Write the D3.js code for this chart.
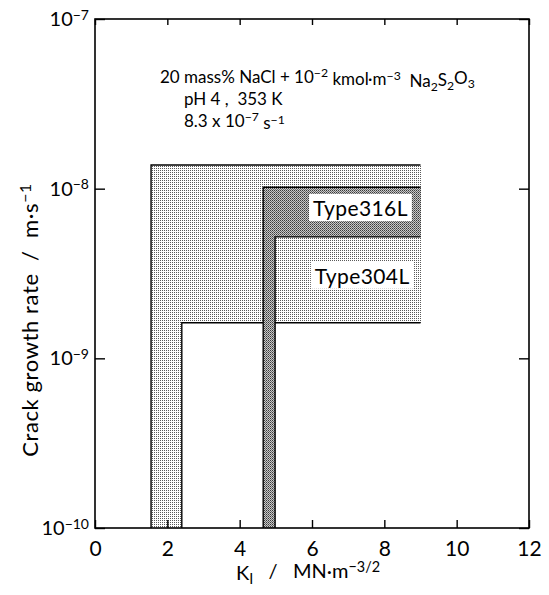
<!DOCTYPE html>
<html>
<head>
<meta charset="utf-8">
<script src="https://cdn.jsdelivr.net/npm/d3@7"></script>
<style>
  body { margin: 0; background: #fff; }
  svg { display: block; font-family: Lato, "DejaVu Sans", sans-serif; }
</style>
</head>
<body>
<svg id="chart" width="549" height="595"></svg>
<script>
// axis values
var xTicks = [0, 2, 4, 6, 8, 10, 12];
var yTicks = [1e-10, 1e-9, 1e-8, 1e-7];
var yExponents = [-10, -9, -8, -7];

// band outlines (K, rate), L-shaped regions
var band304L = [[1.55, 1e-10], [1.55, 1.38e-8], [9.0, 1.38e-8], [9.0, 1.62e-9], [2.4, 1.62e-9], [2.4, 1e-10]];
var band316L = [[4.65, 1e-10], [4.65, 1.02e-8], [9.0, 1.02e-8], [9.0, 5.2e-9], [4.98, 5.2e-9], [4.98, 1e-10]];

// labels placed at (K, rate)
var bandLabels = ["Type316L", "Type304L"];
var bandLabelPos = [[8.65, 6.9e-9], [8.7, 2.75e-9]];

var svg = d3.select("#chart");

var x = d3.scaleLinear().domain([0, 12]).range([95, 529]);
var y = d3.scaleLog().domain([1e-10, 1e-7]).range([528, 19]);

// stipple patterns
var defs = svg.append("defs");
var light = defs.append("pattern").attr("id", "light")
    .attr("patternUnits", "userSpaceOnUse").attr("width", 2).attr("height", 2);
light.append("rect").attr("width", 2).attr("height", 2).attr("fill", "#fff");
light.append("rect").attr("width", 1).attr("height", 1).attr("fill", "#5a5a5a");

var dark = defs.append("pattern").attr("id", "dark")
    .attr("patternUnits", "userSpaceOnUse").attr("width", 2).attr("height", 2);
dark.append("rect").attr("width", 2).attr("height", 2).attr("fill", "#c8c8c8");
dark.append("rect").attr("width", 1).attr("height", 1).attr("fill", "#3a3a3a");
dark.append("rect").attr("x", 1).attr("y", 1).attr("width", 1).attr("height", 1).attr("fill", "#6a6a6a");

var line = d3.line().x(function (d) { return x(d[0]); }).y(function (d) { return y(d[1]); });

function drawBand(pts, fill) {
    svg.append("path")
        .attr("d", line(pts) + "Z")
        .attr("fill", "url(#" + fill + ")")
        .attr("shape-rendering", "crispEdges");
    // outline without the open right edge
    svg.append("path").attr("d", line(pts.slice(0, 3)))
        .attr("fill", "none").attr("stroke", "#000").attr("stroke-width", 1.4);
    svg.append("path").attr("d", line(pts.slice(3)))
        .attr("fill", "none").attr("stroke", "#000").attr("stroke-width", 1.4);
}

drawBand(band304L, "light");
drawBand(band316L, "dark");

// labels with white boxes
bandLabels.forEach(function (lab, i) {
    var g = svg.append("g");
    var t = g.append("text")
        .attr("x", x(bandLabelPos[i][0]))
        .attr("y", y(bandLabelPos[i][1]))
        .attr("text-anchor", "end")
        .attr("font-size", 21)
        .attr("letter-spacing", 0.4)
        .text(lab);
    var bb = t.node().getBBox();
    g.insert("rect", "text")
        .attr("x", bb.x - 4).attr("y", bb.y - 1)
        .attr("width", bb.width + 8).attr("height", bb.height + 2)
        .attr("fill", "#fff");
});

// axes
var axBottom = svg.append("g").attr("transform", "translate(0," + y(1e-10) + ")")
    .call(d3.axisBottom(x).tickValues(xTicks).tickSize(-8).tickPadding(13));
var axTop = svg.append("g").attr("transform", "translate(0," + y(1e-7) + ")")
    .call(d3.axisTop(x).tickValues(xTicks).tickSize(-6).tickFormat(""));
var axLeft = svg.append("g").attr("transform", "translate(" + x(0) + ",0)")
    .call(d3.axisLeft(y).tickValues(yTicks).tickSize(-10).tickPadding(6).tickFormat(""));
var axRight = svg.append("g").attr("transform", "translate(" + x(12) + ",0)")
    .call(d3.axisRight(y).tickValues(yTicks).tickSize(-10).tickFormat(""));

[axBottom, axTop, axLeft, axRight].forEach(function (a) {
    a.select(".domain").remove();
    a.selectAll("line").attr("stroke", "#000").attr("stroke-width", 1.4);
});
axBottom.selectAll("text").attr("font-size", 21).attr("font-family", "Lato, sans-serif").attr("fill", "#000");

axLeft.selectAll(".tick text").each(function (d, i) {
    var t = d3.select(this).attr("font-size", 20).attr("font-family", "Lato, sans-serif").attr("fill", "#000");
    t.append("tspan").text("10");
    t.append("tspan").attr("dy", "-0.45em").attr("font-size", 14).text("\u2212" + (-yExponents[i]));
});

svg.append("rect")
    .attr("x", x(0)).attr("y", y(1e-7))
    .attr("width", x(12) - x(0)).attr("height", y(1e-10) - y(1e-7))
    .attr("fill", "none").attr("stroke", "#000").attr("stroke-width", 1.6);

// rich text helper: parts are [text, "n" | "sup" | "sub"]
function rich(sel, parts, size) {
    var prev = "n";
    parts.forEach(function (p) {
        var ts = sel.append("tspan").text(p[0]);
        var shift = { n: 0, sup: -0.45, sub: 0.3 };
        var d = shift[p[1]] - shift[prev];
        if (d !== 0) ts.attr("dy", d + "em");
        if (p[1] !== "n") ts.attr("font-size", size * 0.72);
        prev = p[1];
    });
}

var note1 = svg.append("text").attr("x", 160).attr("y", 83).attr("font-size", 17).attr("xml:space", "preserve");
rich(note1, [["20 mass% NaCl + 10", "n"], ["\u22122", "sup"], [" kmol\u00b7m", "n"], ["\u22123", "sup"], ["  Na", "n"], ["2", "sub"], ["S", "n"], ["2", "sub"], ["O", "n"], ["3", "sub"]], 17);
svg.append("text").attr("x", 184).attr("y", 105).attr("font-size", 17).attr("xml:space", "preserve").text("pH 4 ,  353 K");
var note3 = svg.append("text").attr("x", 184).attr("y", 127).attr("font-size", 17);
rich(note3, [["8.3 x 10", "n"], ["\u22127", "sup"], [" s", "n"], ["\u22121", "sup"]], 17);

// axis titles
var xt = svg.append("text").attr("x", 308).attr("y", 580).attr("text-anchor", "middle").attr("font-size", 20).attr("xml:space", "preserve");
rich(xt, [["K", "n"], ["I", "sub"], ["   /   MN\u00b7m", "n"], ["\u22123/2", "sup"]], 20);

var yt = svg.append("text").attr("transform", "translate(38,320) rotate(-90)")
    .attr("text-anchor", "middle").attr("font-size", 22).attr("letter-spacing", 0.6).attr("xml:space", "preserve");
rich(yt, [["Crack growth rate  /  m\u00b7s", "n"], ["\u22121", "sup"]], 22);
</script>
</body>
</html>
